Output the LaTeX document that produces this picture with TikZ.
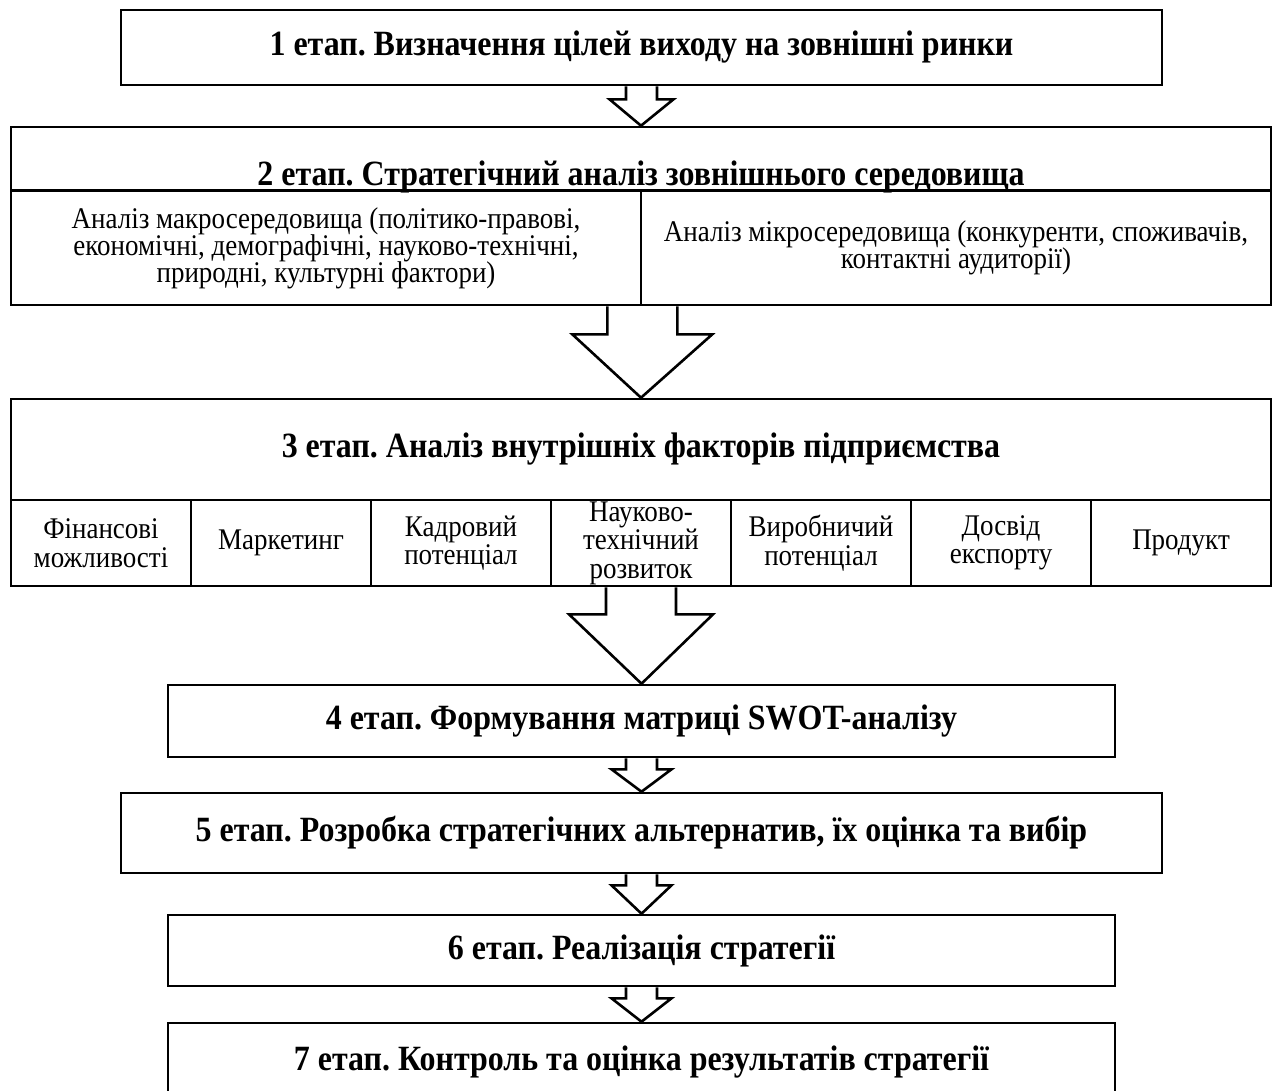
\documentclass[tikz,border=0pt]{standalone}
\usepackage{fontspec}
\setmainfont[FakeStretch=0.9]{Liberation Serif}
\usetikzlibrary{calc}
\frenchspacing

\newcommand{\tightlines}{\setlength{\lineskiplimit}{-20pt}}
\newcommand{\blockarrow}[5]{%
  \draw[arrowline] ($(#1)+(-#3,0)$) -- ($(#1)+(-#3,#5)$) -- ($(#1)+(-#4,#5)$)
    -- (#2) -- ($(#1)+(#4,#5)$) -- ($(#1)+(#3,#5)$) -- ($(#1)+(#3,0)$);}

\begin{document}
\begin{tikzpicture}[x=1pt,y=-1pt,
    stage/.style={draw,line width=2.6pt,inner sep=0pt,font=\bfseries\fontsize{35.5}{36}\selectfont},
    title/.style={inner sep=0pt,font=\bfseries\fontsize{35.5}{36}\selectfont},
    cell/.style={draw,line width=2.6pt,inner sep=0pt,align=center,font=\fontsize{30}{28.5}\selectfont},
    envcell/.style={cell,font=\fontsize{30}{27}\selectfont\tightlines},
    arrowline/.style={line width=2.6pt,line join=miter}]
          \useasboundingbox (0,0) rectangle (1274,1090);
          \clip (0,0) rectangle (1274,1090);
          \node[stage,minimum width=1041pt,minimum height=75pt] (s1) at (641.5,47.5) {1 етап. Визначення цілей виходу на зовнішні ринки};
          \node[cell,minimum width=1260pt,minimum height=63pt] (s2) at (641,158.5) {};
          \node[title,anchor=base] (s2t) at (641,185) {2 етап. Стратегічний аналіз зовнішнього середовища};
          \node[envcell,minimum width=630pt,minimum height=114pt] (s2a) at (326,248) {Аналіз макросередовища (політико-правові,\\економічні, демографічні, науково-технічні,\\природні, культурні фактори)};
          \node[envcell,minimum width=630pt,minimum height=114pt] (s2b) at (956,248) {Аналіз мікросередовища (конкуренти, споживачів,\\контактні аудиторії)};
          \node[stage,minimum width=1260pt,minimum height=101pt] (s3) at (641,449.5) {3 етап. Аналіз внутрішніх факторів підприємства};
          \node[cell,minimum width=180pt,minimum height=86pt] (f1) at (101,543) {Фінансові\\можливості};
          \node[cell,minimum width=180pt,minimum height=86pt] (f2) at (281,543) {Маркетинг};
          \node[cell,minimum width=180pt,minimum height=86pt] (f3) at (461,543) {Кадровий\\потенціал};
          \node[cell,minimum width=180pt,minimum height=86pt] (f4) at (641,543) {Науково-\\технічний\\розвиток};
          \node[cell,minimum width=180pt,minimum height=86pt] (f5) at (821,543) {Виробничий\\потенціал};
          \node[cell,minimum width=180pt,minimum height=86pt] (f6) at (1001,543) {Досвід\\експорту};
          \node[cell,minimum width=180pt,minimum height=86pt] (f7) at (1181,543) {Продукт};
          \node[stage,minimum width=947pt,minimum height=72pt] (s4) at (641.5,721) {4 етап. Формування матриці SWOT-аналізу};
          \node[stage,minimum width=1041pt,minimum height=80pt] (s5) at (641.5,833) {5 етап. Розробка стратегічних альтернатив, їх оцінка та вибір};
          \node[stage,minimum width=947pt,minimum height=71pt] (s6) at (641.5,950.5) {6 етап. Реалізація стратегії};
          \node[stage,minimum width=947pt,minimum height=78pt] (s7) at (641.5,1062) {7 етап. Контроль та оцінка результатів стратегії};
          \blockarrow{s1.south}{s2.north}{15.5}{32}{13}
          \blockarrow{s2a.south east}{s3.north}{35}{70}{28}
          \blockarrow{f4.south}{s4.north}{35}{72}{27}
          \blockarrow{s4.south}{s5.north}{15.5}{30}{11}
          \blockarrow{s5.south}{s6.north}{15.5}{30}{11}
          \blockarrow{s6.south}{s7.north}{15.5}{30}{11}
        \end{tikzpicture}
\end{document}
